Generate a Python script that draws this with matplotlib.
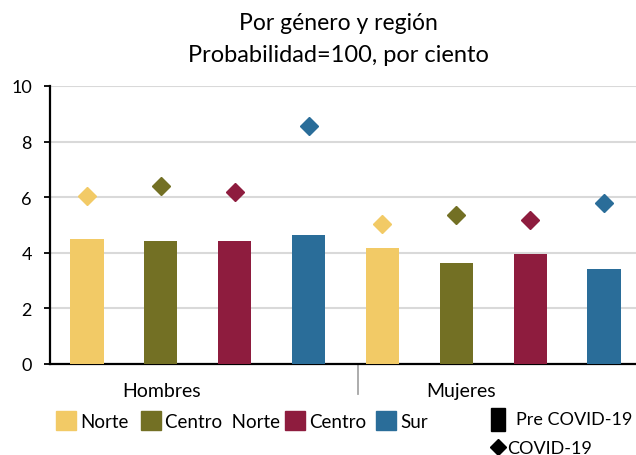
import matplotlib.pyplot as plt
from matplotlib.patches import Rectangle
from matplotlib.lines import Line2D

plt.rcParams['font.family'] = ['Lato', 'DejaVu Sans']

regiones = ['Norte', 'Centro  Norte', 'Centro', 'Sur']
colores = ['#F2CA66', '#737024', '#8E1C3E', '#2A6D99']
grupos = ['Hombres', 'Mujeres']

# Pre COVID-19 (barras)
pre_hombres = [4.49, 4.42, 4.41, 4.64]
pre_mujeres = [4.17, 3.65, 3.96, 3.42]
# COVID-19 (rombos)
covid_hombres = [6.03, 6.41, 6.19, 8.57]
covid_mujeres = [5.04, 5.35, 5.19, 5.80]

fig = plt.figure(figsize=(6.36, 4.56), dpi=100)
W, H = 636, 456
ax = fig.add_axes([50 / W, 1 - 365 / H, 591 / W, 278 / H])

pre = pre_hombres + pre_mujeres
covid = covid_hombres + covid_mujeres
cols = colores * 2
xs = list(range(len(pre)))

ax.bar(xs, pre, width=0.45, color=cols, zorder=3)
for x, v, c in zip(xs, covid, cols):
    ax.plot(x, v, marker='D', markersize=9, color=c, linestyle='none', zorder=4)

ax.set_xlim(-0.5, 7.5)
ax.set_ylim(0, 10)
ax.set_yticks(range(0, 11, 2))
ax.yaxis.grid(True, color='#D9D9D9', linewidth=1.5, zorder=0)
ax.set_xticks([])
for s in ['top', 'right']:
    ax.spines[s].set_visible(False)
ax.spines['left'].set_linewidth(1.6)
ax.spines['bottom'].set_linewidth(1.6)
ax.tick_params(axis='y', length=4, width=1.3, labelsize=13, pad=9)

# etiquetas de grupo y separador
tr = ax.get_xaxis_transform()
ax.text(1.01, -27 / 278, grupos[0], transform=tr, ha='center', va='center', fontsize=14)
ax.text(5.06, -27 / 278, grupos[1], transform=tr, ha='center', va='center', fontsize=14)
ax.plot([3.67, 3.67], [0, -30 / 278], transform=tr,
        color='#A6A6A6', linewidth=1.3, clip_on=False)

# titulo
fig.text(338 / W, 1 - 23 / H, 'Por género y región', ha='center', va='center', fontsize=16.5)
fig.text(338 / W, 1 - 55 / H, 'Probabilidad=100, por ciento', ha='center', va='center', fontsize=17)

# leyenda regiones
legend_x = [56, 141, 285, 376]
for lx, nombre, c in zip(legend_x, regiones, colores):
    fig.patches.append(Rectangle((lx / W, 1 - 431 / H), 20 / W, 19 / H,
                                 color=c, transform=fig.transFigure))
    fig.text((lx + 24) / W, 1 - 423 / H, nombre, ha='left', va='center', fontsize=13.5)

# leyenda series
fig.patches.append(Rectangle((491 / W, 1 - 432 / H), 14 / W, 23 / H,
                             color='black', transform=fig.transFigure))
fig.text(516 / W, 1 - 420 / H, 'Pre COVID-19', ha='left', va='center', fontsize=13)
fig.lines.append(Line2D([498 / W], [1 - 448 / H], marker='D', markersize=8,
                        color='black', transform=fig.transFigure))
fig.text(507 / W, 1 - 449 / H, 'COVID-19', ha='left', va='center', fontsize=13)

fig.savefig('out.png', dpi=100)
